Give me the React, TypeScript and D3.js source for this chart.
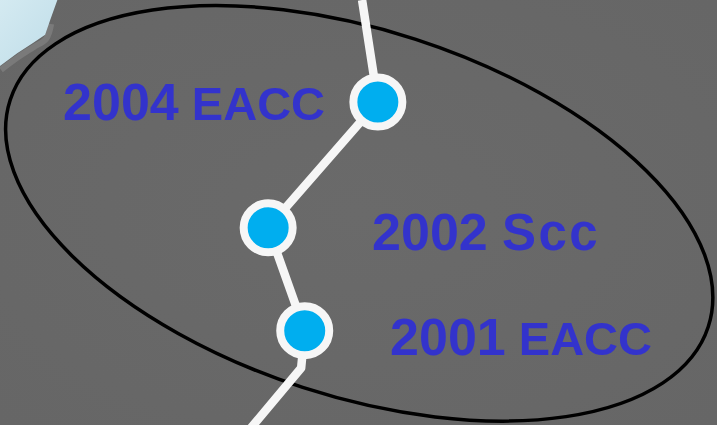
import React from "react";
import * as d3 from "d3";

const W = 717;
const H = 425;

// Milestones along the path (normalized units, 0..100)
const years = ["2001", "2002", "2004"];
const events = ["EACC", "Scc", "EACC"];
const eventSize = [47, 51, 47];
const eventSpacing = [0, 2.5, 0];
const pathX = [33.6, 42.0, 42.5, 37.4, 52.7, 50.5];
const pathY = [103.5, 86.6, 77.8, 53.6, 24.0, 0];
const markerIdx = [2, 3, 4];
const labelX = [54.4, 51.9, 8.8];
const labelY = [83.5, 58.8, 28.2];

const skyX = [0, 8.0, 7.0, 6.3, 4.6, 2.4, 0];
const skyY = [0, 0, 4.7, 8.2, 10.1, 12.5, 15.5];

export default function App() {
  const x = d3.scaleLinear().domain([0, 100]).range([0, W]);
  const y = d3.scaleLinear().domain([0, 100]).range([0, H]);

  const line = d3
    .line<number>()
    .x((_, i) => x(pathX[i]))
    .y((_, i) => y(pathY[i]));
  const pathD = line(pathX) || "";

  const sky = d3
    .line<number>()
    .x((_, i) => x(skyX[i]))
    .y((_, i) => y(skyY[i]));
  const skyD = (sky(skyX) || "") + "Z";

  const edge = d3
    .line<number>()
    .x((_, i) => x(skyX[i + 2]))
    .y((_, i) => y(skyY[i + 2]))
    .curve(d3.curveCatmullRom);
  const edgeD = edge(skyX.slice(2)) || "";

  const cx = x(50.1);
  const cy = y(50.2);

  return (
    <svg
      width={W}
      height={H}
      style={{ display: "block", position: "fixed", left: 0, top: 0 }}
    >
      <defs>
        <linearGradient id="skyG" x1="0" y1="0" x2="1" y2="1">
          <stop offset="0" stopColor="#d4eaf1" />
          <stop offset="1" stopColor="#bfdde9" />
        </linearGradient>
        <radialGradient id="rock" cx="0.5" cy="0.5" r="0.7">
          <stop offset="0" stopColor="#6a6a6a" />
          <stop offset="1" stopColor="#666666" />
        </radialGradient>
      </defs>
      <rect width={W} height={H} fill="url(#rock)" />
      <path
        d={edgeD}
        fill="none"
        stroke="#878787"
        strokeWidth={6}
        opacity={0.6}
        transform="translate(1,4)"
      />
      <path d={skyD} fill="url(#skyG)" />
      <ellipse
        cx={cx}
        cy={cy}
        rx={367}
        ry={183}
        transform={`rotate(18 ${cx} ${cy})`}
        fill="none"
        stroke="#000"
        strokeWidth={3.5}
      />
      <path
        d={pathD}
        fill="none"
        stroke="#f6f6f6"
        strokeWidth={8.5}
        strokeLinejoin="round"
      />
      {markerIdx.map((mi, k) => (
        <circle
          key={k}
          cx={x(pathX[mi])}
          cy={y(pathY[mi])}
          r={24.5}
          fill="#00aeef"
          stroke="#f6f6f6"
          strokeWidth={8}
        />
      ))}
      {years.map((yr, k) => (
        <text
          key={k}
          x={x(labelX[k])}
          y={y(labelY[k])}
          fill="#3333cc"
          fontFamily="Liberation Sans, Arial, sans-serif"
          fontWeight="bold"
          fontSize={52}
        >
          {yr}
          <tspan fontSize={eventSize[k]}> </tspan>
          <tspan fontSize={eventSize[k]} letterSpacing={eventSpacing[k]}>
            {events[k]}
          </tspan>
        </text>
      ))}
    </svg>
  );
}
